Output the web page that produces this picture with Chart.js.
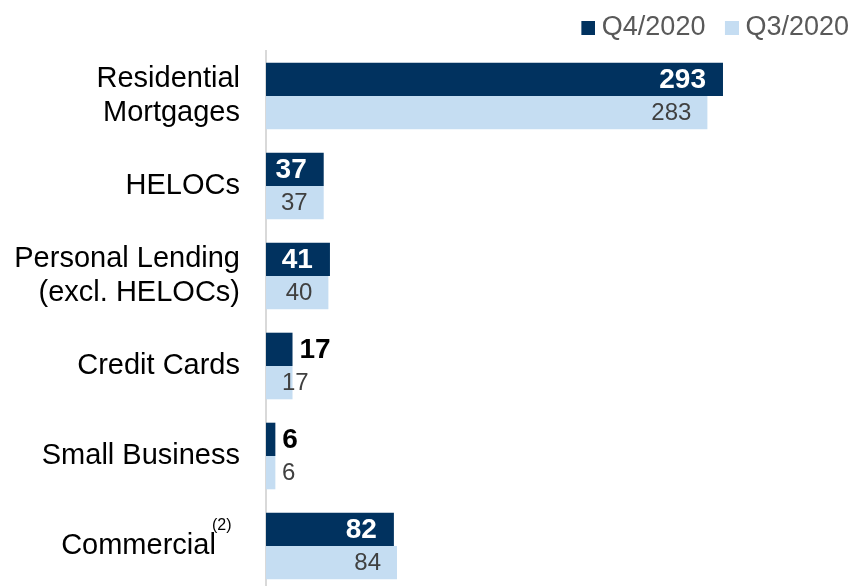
<!DOCTYPE html>
<html>
<head>
<meta charset="utf-8">
<script src="https://cdn.jsdelivr.net/npm/chart.js@4/dist/chart.umd.min.js"></script>
<style>
  html,body{margin:0;padding:0;background:#fff;overflow:hidden}
  canvas{display:block}
</style>
</head>
<body>
<canvas id="c" width="854" height="592"></canvas>
<script>
const CATEGORIES=[['Residential','Mortgages'],'HELOCs',['Personal Lending','(excl. HELOCs)'],'Credit Cards','Small Business','Commercial   ']
const SERIES=['Q4/2020','Q3/2020']
const Q4=[293,37,41,17,6,82]
const Q3=[283,37,40,17,6,84]
const NOTE_INDEX=5, NOTE_TEXT='(2)'

const FF="'Liberation Sans', Arial, sans-serif"
const navy='#01325f',light='#c5ddf2'

// legend square sitting close to its text
function legendSwatch(color){
  const c=document.createElement('canvas')
  c.width=28;c.height=14
  const g=c.getContext('2d')
  g.fillStyle=color
  g.fillRect(14,0,14,14)
  return c
}

// value labels on the bars
const valueLabels={
  id:'valueLabels',
  afterDatasetsDraw(chart){
    const ctx=chart.ctx,x0=chart.scales.x.getPixelForValue(0)
    ctx.save()
    ctx.textBaseline='middle'
    chart.data.datasets.forEach((ds,di)=>{
      chart.getDatasetMeta(di).data.forEach((bar,i)=>{
        const v=ds.data[i],big=v>=30
        if(di===0){
          ctx.font='bold 28px '+FF
          if(big){ctx.fillStyle='#fff';ctx.textAlign='right';ctx.fillText(v,bar.x-17,bar.y+1)}
          else{ctx.fillStyle='#000';ctx.textAlign='left';ctx.fillText(v,bar.x+7,bar.y+1)}
        }else{
          ctx.font='24px '+FF
          ctx.fillStyle='#404040'
          if(big){ctx.textAlign='right';ctx.fillText(v,bar.x-16,bar.y+1)}
          else{ctx.textAlign='left';ctx.fillText(v,x0+16,bar.y+1)}
        }
      })
    })
    // footnote marker next to Commercial
    const y=chart.scales.y.getPixelForValue(NOTE_INDEX)
    ctx.font='16px '+FF
    ctx.fillStyle='#000'
    ctx.textAlign='left'
    ctx.fillText(NOTE_TEXT,212,y-20)
    ctx.restore()
  }
}

new Chart(document.getElementById('c'),{
  type:'bar',
  data:{labels:CATEGORIES,datasets:[
    {label:SERIES[0],data:Q4,backgroundColor:navy,categoryPercentage:0.74,barPercentage:1},
    {label:SERIES[1],data:Q3,backgroundColor:light,categoryPercentage:0.74,barPercentage:1},
  ]},
  options:{
    indexAxis:'y',responsive:false,animation:false,
    layout:{padding:{top:9,bottom:1,left:0,right:0}},
    plugins:{
      tooltip:{enabled:false},
      legend:{position:'top',align:'end',labels:{
        color:'#595959',font:{family:FF,size:27},boxWidth:14,boxHeight:14,padding:5,usePointStyle:true,
        generateLabels(chart){
          const items=Chart.defaults.plugins.legend.labels.generateLabels(chart)
          items.forEach(it=>{it.pointStyle=legendSwatch(it.fillStyle)})
          items[0].text+=' '
          return items
        }
      }}
    },
    scales:{
      x:{display:false,min:0,max:377},
      y:{
        grid:{display:false},
        border:{display:true,color:'#d9d9d9',width:2},
        ticks:{color:'#000',padding:18,font:{family:FF,size:29,lineHeight:1.14}},
        afterFit(s){s.width=266;s.paddingTop=0;s.paddingBottom=0}
      }
    }
  },
  plugins:[valueLabels]
})
</script>
</body>
</html>
